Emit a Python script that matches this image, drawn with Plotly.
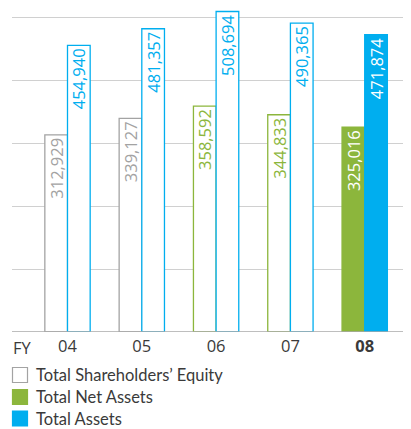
import plotly.graph_objects as go

years = ["04", "05", "06", "07", "08"]
tick_labels = ["04", "05", "06", "07", "<b>08</b>"]
equity_or_net = [312929, 339127, 358592, 344833, 325016]
total_assets = [454940, 481357, 508694, 490365, 471874]
legend_labels = ["Total Shareholders\u2019 Equity", "Total Net Assets", "Total Assets"]

GREY = "#a3a3a3"
GREEN = "#8cb63c"
BLUE = "#00aeef"
TEXT = "#3a3a3a"
FONT = "Open Sans"
LEGFONT = "Lato"

# the page body adds an 8px offset; reference pixel coords are converted by subtracting OFF
OFF = 8
W, H = 411 - OFF, 429 - OFF
ML, MR, MT = 12 - OFF, 0, 0
BASE = 332 - OFF           # baseline in figure px
PH = BASE - MT
MB = H - BASE
PW = W - ML - MR
PX_PER_100K = 63.0
YTOP = PH / PX_PER_100K * 100000

x = list(range(len(years)))

left_fill = ["white", "white", "white", "white", GREEN]
left_line = [GREY, GREY, GREEN, GREEN, GREEN]
left_text = [GREY, GREY, GREEN, GREEN, "white"]
right_fill = ["white"] * 4 + [BLUE]
right_text = [BLUE] * 4 + ["white"]

fig = go.Figure()
fig.add_bar(
    x=x, y=equity_or_net,
    marker=dict(color=left_fill, line=dict(color=left_line, width=1.3)),
    text=[f"{v:,}" for v in equity_or_net],
    textposition="inside", insidetextanchor="end", textangle=-90,
    textfont=dict(family=FONT, size=16.5, color=left_text),
    showlegend=False, hoverinfo="skip", cliponaxis=False,
)
fig.add_bar(
    x=x, y=total_assets,
    marker=dict(color=right_fill, line=dict(color=BLUE, width=1.3)),
    text=[f"{v:,}" for v in total_assets],
    textposition="inside", insidetextanchor="end", textangle=-90,
    textfont=dict(family=FONT, size=16.5, color=right_text),
    showlegend=False, hoverinfo="skip", cliponaxis=False,
)

def px_x(p):
    return (p - OFF - ML) / PW

def px_y(p):
    return (BASE - (p - OFF)) / PH

shapes = []
annotations = []
leg_fill = ["white", GREEN, BLUE]
leg_line = [GREY, GREEN, BLUE]
row_centers = [375, 397, 418.5]
for lab, fc, lc, cy in zip(legend_labels, leg_fill, leg_line, row_centers):
    shapes.append(dict(type="rect", xref="paper", yref="paper",
                       x0=px_x(12.5), x1=px_x(27.5), y0=px_y(cy - 7.5), y1=px_y(cy + 7.5),
                       fillcolor=fc, line=dict(color=lc, width=1.2)))
    annotations.append(dict(xref="paper", yref="paper", x=px_x(34), y=px_y(cy),
                            text=lab, showarrow=False, xanchor="left", yanchor="middle",
                            font=dict(family=LEGFONT, size=16.5, color=TEXT)))
annotations.append(dict(xref="paper", yref="paper", x=px_x(11), y=px_y(347),
                        text="FY", showarrow=False, xanchor="left", yanchor="middle",
                        font=dict(family=FONT, size=16.5, color=TEXT)))

fig.update_layout(
    width=W, height=H,
    margin=dict(l=ML, r=MR, t=MT, b=MB),
    paper_bgcolor="white", plot_bgcolor="white",
    barmode="group", bargap=0.39, bargroupgap=0,
    uniformtext=dict(minsize=16, mode="show"),
    shapes=shapes, annotations=annotations,
    xaxis=dict(range=[-0.747, 4.623], tickvals=x, ticktext=tick_labels,
               showgrid=False, zeroline=False, showline=False, ticks="",
               ticklabelstandoff=2,
               tickfont=dict(family=FONT, size=16.5, color=TEXT), fixedrange=True),
    yaxis=dict(range=[0, YTOP], tickvals=[100000, 200000, 300000, 400000, 500000],
               showticklabels=False, showgrid=True, gridcolor="#d0d0d0", gridwidth=1,
               zeroline=False, showline=False, ticks="", fixedrange=True),
    font=dict(family=FONT),
)
fig.add_shape(type="line", xref="paper", yref="y", x0=0, x1=1, y0=0, y1=0,
              line=dict(color="#a8a8a8", width=1.5), layer="above")

fig.write_html("out.html")
